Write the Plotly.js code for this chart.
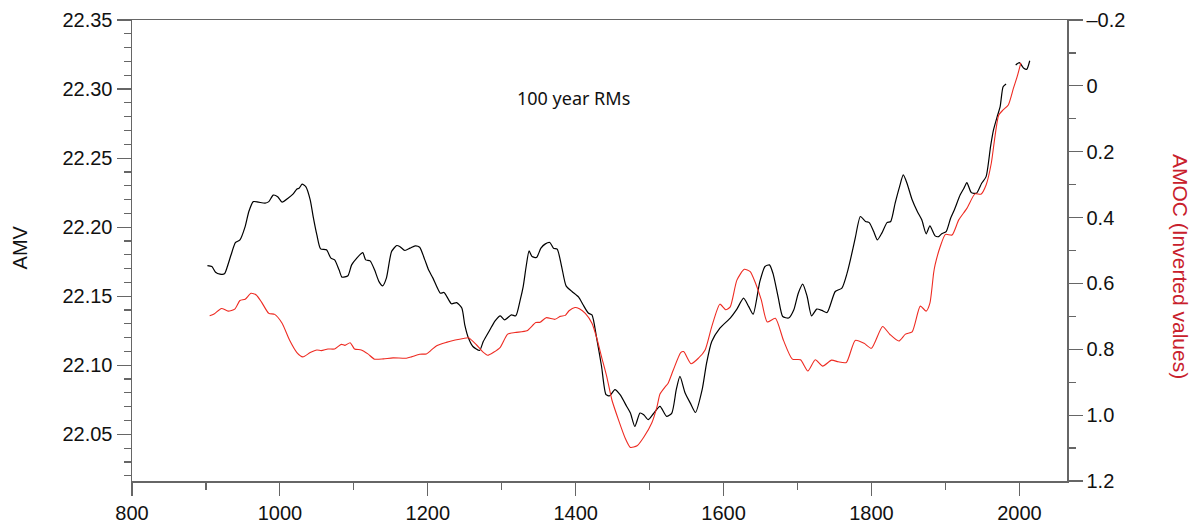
<!DOCTYPE html>
<html>
<head>
<meta charset="utf-8">
<script src="https://cdn.plot.ly/plotly-3.0.1.min.js"></script>
<style>
  html, body { margin: 0; padding: 0; background: #ffffff; }
  #chart { width: 1197px; height: 523px; }
</style>
</head>
<body>
<div id="chart"></div>
<script>
// AMV, 100-year running mean (left axis)
const amvYears = [
  902, 908, 913, 919, 925, 929, 934, 940, 946, 953,
  958, 964, 971, 980, 985, 991, 997, 1003, 1011, 1018,
  1023, 1026, 1030, 1035, 1041, 1045, 1050, 1055, 1063, 1069,
  1074, 1080, 1084, 1092, 1097, 1104, 1112, 1116, 1122, 1128,
  1134, 1139, 1144, 1151, 1158, 1162, 1169, 1176, 1183, 1189,
  1196, 1201, 1207, 1217, 1222, 1232, 1239, 1246, 1250, 1255,
  1261, 1270, 1275, 1284, 1291, 1298, 1304, 1313, 1319, 1325,
  1329, 1333, 1337, 1341, 1347, 1353, 1359, 1365, 1370, 1375,
  1381, 1387, 1395, 1404, 1410, 1417, 1422, 1428, 1435, 1441,
  1446, 1453, 1460, 1469, 1474, 1480, 1487, 1492, 1498, 1505,
  1514, 1523, 1530, 1536, 1541, 1548, 1555, 1562, 1571, 1577,
  1584, 1595, 1609, 1618, 1627, 1634, 1640, 1649, 1656, 1662,
  1667, 1674, 1680, 1688, 1695, 1701, 1707, 1713, 1719, 1726,
  1733, 1740, 1751, 1760, 1767, 1772, 1778, 1785, 1792, 1797,
  1803, 1808, 1814, 1821, 1826, 1832, 1838, 1843, 1848, 1855,
  1862, 1868, 1874, 1879, 1886, 1891, 1895, 1901, 1907, 1912,
  1920, 1925, 1929, 1935, 1942, 1949, 1955, 1961, 1965, 1970,
  1974, 1978, 1982, 1988, 1995, 2000, 2006, 2010, 2014
];
const amvValues = [
  22.1722, 22.1715, 22.1674, 22.1660, 22.1662, 22.1715, 22.1800, 22.1889, 22.1908, 22.2004,
  22.2113, 22.2185, 22.2181, 22.2174, 22.2185, 22.2232, 22.2221, 22.2181, 22.2210, 22.2241,
  22.2277, 22.2282, 22.2311, 22.2294, 22.2198, 22.2077, 22.1944, 22.1843, 22.1836, 22.1776,
  22.1763, 22.1691, 22.1638, 22.1648, 22.1727, 22.1776, 22.1816, 22.1763, 22.1756, 22.1691,
  22.1606, 22.1575, 22.1631, 22.1823, 22.1867, 22.1860, 22.1831, 22.1848, 22.1865, 22.1855,
  22.1763, 22.1691, 22.1631, 22.1522, 22.1527, 22.1445, 22.1454, 22.1414, 22.1293, 22.1197,
  22.1136, 22.1107, 22.1172, 22.1257, 22.1322, 22.1358, 22.1329, 22.1365, 22.1358, 22.1474,
  22.1570, 22.1715, 22.1828, 22.1787, 22.1780, 22.1848, 22.1879, 22.1889, 22.1848, 22.1841,
  22.1715, 22.1575, 22.1534, 22.1493, 22.1438, 22.1378, 22.1365, 22.1208, 22.0991, 22.0787,
  22.0779, 22.0823, 22.0787, 22.0702, 22.0654, 22.0557, 22.0654, 22.0642, 22.0606, 22.0649,
  22.0702, 22.0630, 22.0654, 22.0823, 22.0919, 22.0799, 22.0726, 22.0658, 22.0823, 22.1016,
  22.1172, 22.1269, 22.1342, 22.1407, 22.1486, 22.1425, 22.1370, 22.1606, 22.1715, 22.1727,
  22.1662, 22.1488, 22.1353, 22.1342, 22.1402, 22.1522, 22.1588, 22.1498, 22.1358, 22.1407,
  22.1397, 22.1382, 22.1534, 22.1559, 22.1667, 22.1776, 22.1920, 22.2077, 22.2041, 22.2033,
  22.1968, 22.1908, 22.1957, 22.2033, 22.2041, 22.2174, 22.2294, 22.2378, 22.2318, 22.2198,
  22.2113, 22.2053, 22.1952, 22.2009, 22.1937, 22.1932, 22.1952, 22.1968, 22.2065, 22.2125,
  22.2234, 22.2282, 22.2323, 22.2250, 22.2246, 22.2318, 22.2366, 22.2583, 22.2704, 22.2800,
  22.2873, 22.3017, 22.3037, null, 22.3174, 22.3191, 22.3150, 22.3143, 22.3205
];

// AMOC, 100-year running mean, plotted on an inverted right axis
const amocYears = [
  905, 911, 921, 930, 939, 946, 953, 961, 968, 975,
  985, 993, 1003, 1013, 1023, 1031, 1041, 1050, 1056, 1065,
  1074, 1083, 1088, 1095, 1101, 1110, 1119, 1128, 1140, 1153,
  1171, 1178, 1189, 1198, 1205, 1212, 1225, 1237, 1248, 1255,
  1266, 1274, 1281, 1289, 1298, 1308, 1318, 1334, 1346, 1352,
  1360, 1372, 1379, 1386, 1391, 1399, 1405, 1413, 1422, 1428,
  1435, 1442, 1449, 1458, 1467, 1474, 1483, 1492, 1503, 1510,
  1514, 1521, 1525, 1532, 1542, 1546, 1556, 1566, 1575, 1584,
  1595, 1603, 1609, 1618, 1628, 1636, 1643, 1651, 1659, 1670,
  1681, 1693, 1704, 1714, 1724, 1734, 1746, 1755, 1766, 1778,
  1790, 1800, 1815, 1825, 1837, 1846, 1855, 1866, 1874, 1879,
  1884, 1886, 1893, 1900, 1909, 1918, 1929, 1940, 1948, 1955,
  1962, 1967, 1972, 1978, 1985, 1992, 1997, 2002
];
const amocValues = [
  0.698, 0.693, 0.676, 0.684, 0.678, 0.652, 0.648, 0.630, 0.635, 0.656,
  0.691, 0.694, 0.721, 0.772, 0.810, 0.823, 0.810, 0.802, 0.804, 0.799,
  0.799, 0.785, 0.788, 0.780, 0.799, 0.802, 0.814, 0.830, 0.829, 0.826,
  0.827, 0.823, 0.815, 0.814, 0.802, 0.789, 0.779, 0.772, 0.767, 0.765,
  0.787, 0.807, 0.818, 0.809, 0.794, 0.754, 0.749, 0.744, 0.719, 0.718,
  0.704, 0.709, 0.700, 0.697, 0.683, 0.673, 0.677, 0.691, 0.721, 0.762,
  0.823, 0.883, 0.954, 1.015, 1.070, 1.098, 1.093, 1.067, 1.023, 0.974,
  0.936, 0.914, 0.903, 0.863, 0.810, 0.807, 0.844, 0.827, 0.802, 0.731,
  0.663, 0.680, 0.671, 0.590, 0.557, 0.564, 0.598, 0.650, 0.717, 0.706,
  0.773, 0.830, 0.832, 0.866, 0.832, 0.851, 0.833, 0.838, 0.840, 0.773,
  0.782, 0.797, 0.731, 0.755, 0.775, 0.754, 0.747, 0.669, 0.684, 0.660,
  0.569, 0.544, 0.488, 0.451, 0.453, 0.407, 0.372, 0.328, 0.329, 0.301,
  0.235, 0.154, 0.089, 0.073, 0.058, 0.007, -0.028, -0.070
];

// Tick labels of the inverted AMOC axis
const amocTickVals = [-0.2, 0, 0.2, 0.4, 0.6, 0.8, 1.0, 1.2];
const amocTickText = ['\u20130.2', '0', '0.2', '0.4', '0.6', '0.8', '1.0', '1.2'];

const axisGrey = '#666666';
const tickFont = { family: 'Liberation Sans, Arial, sans-serif', size: 20, color: '#111111' };

const traces = [
  {
    x: amocYears, y: amocValues, yaxis: 'y2', type: 'scatter', mode: 'lines',
    line: { color: '#ee2b22', width: 1.1, shape: 'spline', smoothing: 0.6 },
    hoverinfo: 'x+y', showlegend: false
  },
  {
    x: amvYears, y: amvValues, yaxis: 'y', type: 'scatter', mode: 'lines',
    connectgaps: false,
    line: { color: '#000000', width: 1.2, shape: 'spline', smoothing: 0.6 },
    hoverinfo: 'x+y', showlegend: false
  }
];

const layout = {
  width: 1197, height: 523,
  margin: { l: 132, r: 130, t: 20, b: 42, pad: 0 },
  paper_bgcolor: '#ffffff', plot_bgcolor: '#ffffff',
  showlegend: false,
  xaxis: {
    range: [800, 2064.4], tick0: 800, dtick: 200,
    ticks: 'outside', ticklen: 13, tickwidth: 1.2, tickcolor: axisGrey,
    minor: { dtick: 100, tick0: 800, ticks: 'outside', ticklen: 7, tickwidth: 1.2, tickcolor: axisGrey },
    showline: true, linecolor: axisGrey, linewidth: 1.5, mirror: true,
    showgrid: false, zeroline: false, tickfont: tickFont
  },
  yaxis: {
    range: [22.0162, 22.35], tick0: 22.05, dtick: 0.05, tickformat: '.2f',
    ticks: 'outside', ticklen: 14, tickwidth: 1.2, tickcolor: axisGrey,
    minor: { dtick: 0.01, tick0: 22.0, ticks: 'outside', ticklen: 7, tickwidth: 1.2, tickcolor: axisGrey },
    showline: true, linecolor: axisGrey, linewidth: 1.5,
    showgrid: false, zeroline: false, tickfont: tickFont
  },
  yaxis2: {
    overlaying: 'y', side: 'right',
    range: [1.2, -0.2],
    tickmode: 'array', tickvals: amocTickVals, ticktext: amocTickText,
    ticks: 'outside', ticklen: 14, tickwidth: 1.2, tickcolor: axisGrey,
    minor: { tickmode: 'array', tickvals: [-0.1, 0.1, 0.3, 0.5, 0.7, 0.9, 1.1], ticks: 'outside', ticklen: 7, tickwidth: 1.2, tickcolor: axisGrey },
    showline: true, linecolor: axisGrey, linewidth: 1.5,
    showgrid: false, zeroline: false, tickfont: tickFont
  },
  annotations: [
    {
      text: 'AMV', xref: 'paper', yref: 'paper', x: -0.1202, y: 0.5058,
      showarrow: false, textangle: -90, xanchor: 'center', yanchor: 'middle',
      font: { family: 'Liberation Sans, Arial, sans-serif', size: 20, color: '#111111' }
    },
    {
      text: 'AMOC (Inverted values)', xref: 'paper', yref: 'paper', x: 1.1213, y: 0.4656,
      showarrow: false, textangle: 90, xanchor: 'center', yanchor: 'middle',
      font: { family: 'Liberation Sans, Arial, sans-serif', size: 21, color: '#c8202c' }
    },
    {
      text: '100 year RMs', xref: 'paper', yref: 'paper', x: 0.4727, y: 0.831,
      showarrow: false, xanchor: 'center', yanchor: 'middle',
      font: { family: 'Noto Sans, Open Sans, sans-serif', size: 18, color: '#111111' }
    }
  ]
};

Plotly.newPlot('chart', traces, layout, { displayModeBar: false, staticPlot: true });
</script>
</body>
</html>
